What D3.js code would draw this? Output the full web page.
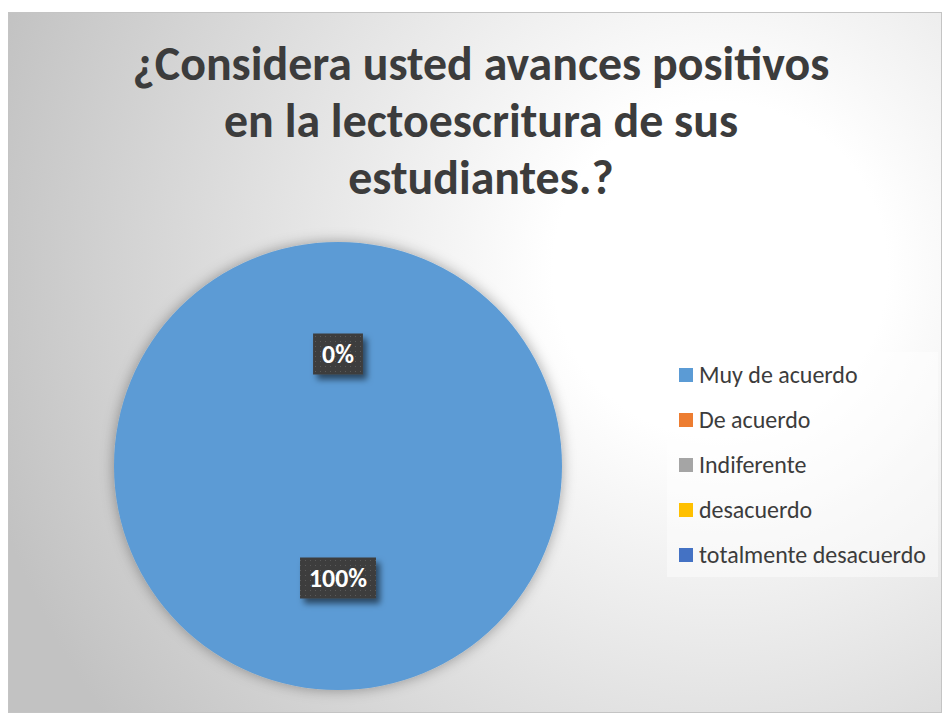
<!DOCTYPE html>
<html>
<head>
<meta charset="utf-8">
<script src="https://cdn.jsdelivr.net/npm/d3@7"></script>
<style>
  body { margin: 0; background: #ffffff; }
  svg { display: block; }
</style>
</head>
<body>
<div id="chart"></div>
<script>
// chart data
var categories = ["Muy de acuerdo", "De acuerdo", "Indiferente", "desacuerdo", "totalmente desacuerdo"];
var values = [100, 0, 0, 0, 0];
var colors = ["#5b9bd5", "#ed7d31", "#a5a5a5", "#ffc000", "#4472c4"];
var titleLines = ["¿Considera usted avances positivos", "en la lectoescritura de sus", "estudiantes.?"];

var width = 942, height = 713;
var fontFamily = "Carlito, Calibri, Lato, 'Open Sans', sans-serif";

var svg = d3.select("#chart").append("svg")
    .attr("width", width)
    .attr("height", height);

var defs = svg.append("defs");

// background gradient
var bg = defs.append("radialGradient")
    .attr("id", "bgGrad")
    .attr("gradientUnits", "userSpaceOnUse")
    .attr("cx", 720).attr("cy", 270).attr("r", 760);
bg.append("stop").attr("offset", "0%").attr("stop-color", "#ffffff");
bg.append("stop").attr("offset", "22%").attr("stop-color", "#ffffff");
bg.append("stop").attr("offset", "100%").attr("stop-color", "#c2c2c2");

// dotted pattern for data labels
var pat = defs.append("pattern")
    .attr("id", "dots")
    .attr("patternUnits", "userSpaceOnUse")
    .attr("width", 5).attr("height", 5);
pat.append("rect").attr("width", 5).attr("height", 5).attr("fill", "#3d3d3d");
pat.append("rect").attr("x", 2).attr("y", 2).attr("width", 1).attr("height", 1).attr("fill", "#5a5a5a");

// soft halo around the pie
var pieShadow = defs.append("filter").attr("id", "pieShadow")
    .attr("x", "-20%").attr("y", "-20%").attr("width", "140%").attr("height", "140%");
pieShadow.append("feDropShadow")
    .attr("dx", 0).attr("dy", 0).attr("stdDeviation", 7)
    .attr("flood-color", "#000").attr("flood-opacity", 0.35);

var labelShadow = defs.append("filter").attr("id", "labelShadow")
    .attr("x", "-30%").attr("y", "-30%").attr("width", "160%").attr("height", "170%");
labelShadow.append("feDropShadow")
    .attr("dx", 4).attr("dy", 5).attr("stdDeviation", 3)
    .attr("flood-color", "#000").attr("flood-opacity", 0.55);

// chart area
svg.append("rect")
    .attr("x", 8.5).attr("y", 12.5)
    .attr("width", width - 9).attr("height", height - 13)
    .attr("fill", "url(#bgGrad)")
    .attr("stroke", "#c4c4c4")
    .attr("stroke-width", 1);

// title
var title = svg.append("text")
    .attr("text-anchor", "middle")
    .attr("font-family", fontFamily)
    .attr("font-weight", "bold")
    .attr("font-size", 46)
    .attr("fill", "#3c3c3c");

title.selectAll("tspan")
  .data(titleLines)
  .enter()
  .append("tspan")
    .attr("x", 481)
    .attr("y", function(d, i) { return 80 + i * 57; })
    .text(function(d) { return d; });

// fit title width to the reference (first line ~697px)
var firstLine = title.select("tspan").node().getComputedTextLength();
title.attr("font-size", 46 * 697 / firstLine);

// pie
var cx = 338, cy = 466, radius = 224;

var pie = d3.pie()
    .sort(null)
    .value(function(d) { return d; });

var arc = d3.arc()
    .innerRadius(0)
    .outerRadius(radius);

var labelArc = d3.arc()
    .innerRadius(0)
    .outerRadius(radius);

var arcs = pie(values);

var pieGroup = svg.append("g")
    .attr("transform", "translate(" + cx + "," + cy + ")");

pieGroup.append("g")
    .attr("filter", "url(#pieShadow)")
  .selectAll("path")
  .data(arcs)
  .enter()
  .append("path")
    .attr("d", arc)
    .attr("fill", function(d, i) { return colors[i]; });

// data labels (zero slices share one spot at the top)
var seen = {};
var labels = arcs.filter(function(d) {
  var c = labelArc.centroid(d);
  var key = Math.round(c[0]) + "," + Math.round(c[1]);
  if (seen[key]) return false;
  seen[key] = true;
  return true;
});

var labelG = pieGroup.selectAll(".label")
  .data(labels)
  .enter()
  .append("g")
    .attr("class", "label")
    .attr("transform", function(d) { return "translate(" + labelArc.centroid(d) + ")"; });

var labelText = function(d) { return Math.round(d.data) + "%"; };

labelG.append("rect")
    .attr("fill", "url(#dots)")
    .attr("filter", "url(#labelShadow)");

var labelTexts = labelG.append("text")
    .attr("text-anchor", "middle")
    .attr("dy", "0.36em")
    .attr("font-family", fontFamily)
    .attr("font-weight", "bold")
    .attr("font-size", 24)
    .attr("fill", "#ffffff")
    .text(labelText);

// "100%" is ~58px wide in the reference
var widest = d3.max(labelTexts.nodes(), function(n) { return n.getComputedTextLength(); });
labelTexts.attr("font-size", 24 * 58 / widest);

labelG.each(function() {
  var g = d3.select(this);
  var w = g.select("text").node().getComputedTextLength();
  g.select("rect")
    .attr("x", -w / 2 - 9)
    .attr("y", -20.5)
    .attr("width", w + 18)
    .attr("height", 41);
});

// legend
var legend = svg.append("g");

legend.append("rect")
    .attr("x", 667).attr("y", 352)
    .attr("width", 271).attr("height", 225)
    .attr("fill", "#ffffff")
    .attr("fill-opacity", 0.45);

var item = legend.selectAll(".item")
  .data(categories)
  .enter()
  .append("g")
    .attr("class", "item")
    .attr("transform", function(d, i) { return "translate(679," + (375 + i * 45) + ")"; });

item.append("rect")
    .attr("x", 0).attr("y", -7)
    .attr("width", 14).attr("height", 14)
    .attr("fill", function(d, i) { return colors[i]; });

var legendText = item.append("text")
    .attr("x", 20)
    .attr("dy", "0.35em")
    .attr("font-family", fontFamily)
    .attr("font-size", 21)
    .attr("fill", "#3c3c3c")
    .text(function(d) { return d; });

// fit legend text (longest entry ~227px)
var longest = d3.max(legendText.nodes(), function(n) { return n.getComputedTextLength(); });
legendText.attr("font-size", 21 * 227 / longest);
</script>
</body>
</html>
